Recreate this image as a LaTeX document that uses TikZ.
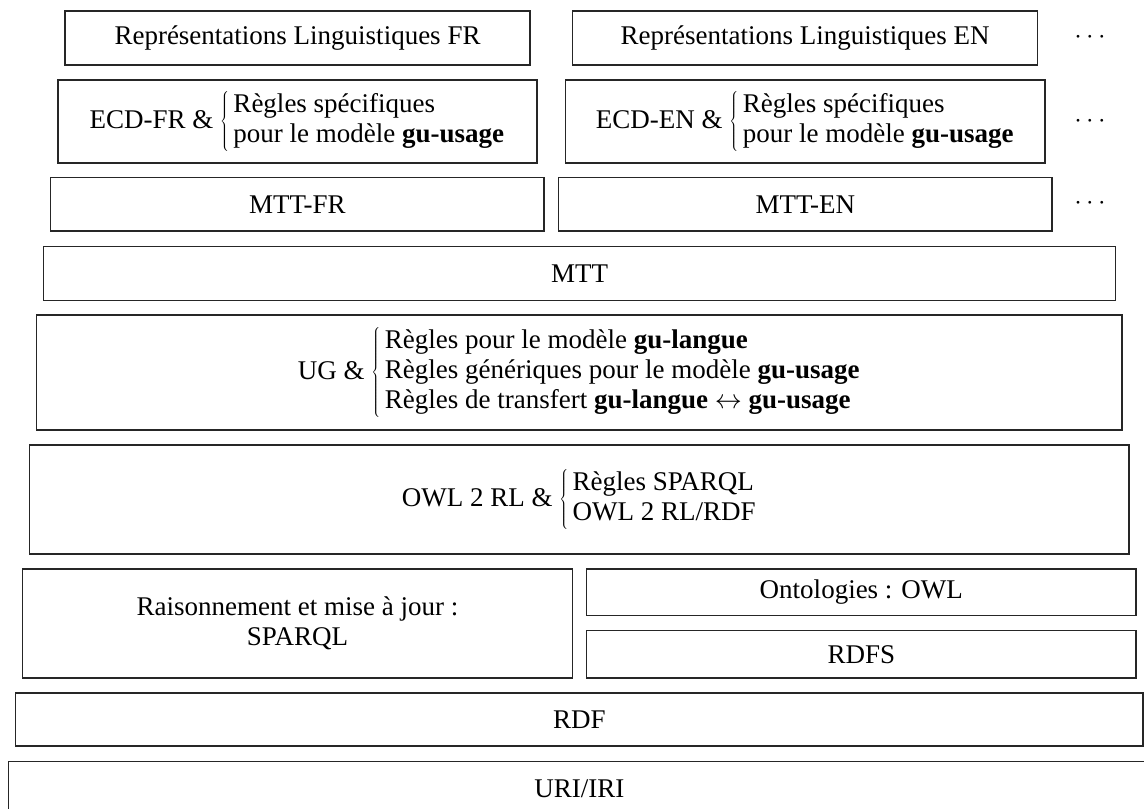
\RequirePackage{fix-cm}
\documentclass[tikz,border=0pt]{standalone}
\usepackage{fontspec}
\setmainfont{Liberation Serif}
\tikzset{
  layer/.style={draw=black!85, line width=1.2pt, inner sep=0pt, align=center,
    font=\fontsize{27}{30}\selectfont},
  etc/.style={inner sep=0pt, font=\fontsize{27}{30}\selectfont}
}
\newcommand{\brc}[1]{$\left\{\begin{tabular}{@{\,}l@{}}#1\end{tabular}\right.$}
\begin{document}
\begin{tikzpicture}[x=1pt,y=-1pt]
\useasboundingbox (0,0) rectangle (1144,809);
\clip (0,0) rectangle (1144,809);
\node[layer, minimum width=465pt, minimum height=54pt] (repfr) at (297.5,38) {Représentations Linguistiques FR};
\node[layer, minimum width=465pt, minimum height=54pt] (repen) at (805.2,38) {Représentations Linguistiques EN};
\node[etc] (dots1) at (1090,37) {$\cdots$};
\node[layer, minimum width=479pt, minimum height=83pt] (ecdfr) at (297.5,121.5) {ECD-FR \& \brc{Règles spécifiques\\pour le modèle \textbf{gu-usage}}};
\node[layer, minimum width=479.3pt, minimum height=83pt] (ecden) at (805.35,121.5) {ECD-EN \& \brc{Règles spécifiques\\pour le modèle \textbf{gu-usage}}};
\node[etc] (dots2) at (1090,121) {$\cdots$};
\node[layer, minimum width=493.3pt, minimum height=53.3pt] (mttfr) at (297.35,204.35) {MTT-FR};
\node[layer, minimum width=493.3pt, minimum height=53.3pt] (mtten) at (805.35,204.35) {MTT-EN};
\node[etc] (dots3) at (1090,203) {$\cdots$};
\node[layer, minimum width=1072pt, minimum height=54pt] (mtt) at (579.7,273.7) {MTT};
\node[layer, minimum width=1085.3pt, minimum height=115pt] (ug) at (579.35,372.5) {UG \& \brc{Règles pour le modèle \textbf{gu-langue}\\Règles génériques pour le modèle \textbf{gu-usage}\\Règles de transfert \textbf{gu-langue} $\leftrightarrow$ \textbf{gu-usage}}};
\node[layer, minimum width=1099.3pt, minimum height=109pt] (owl) at (579.35,499.5) {OWL 2 RL \& \brc{Règles SPARQL\\OWL 2 RL/RDF}};
\node[layer, minimum width=549.6pt, minimum height=109pt] (rais) at (297.5,623.5) {Raisonnement et mise à jour :\\SPARQL};
\node[layer, minimum width=549.3pt, minimum height=46.5pt] (onto) at (861.35,592.25) {Ontologies : OWL};
\node[layer, minimum width=549.3pt, minimum height=47.5pt] (rdfs) at (861.35,654.25) {RDFS};
\node[layer, minimum width=1127.3pt, minimum height=53pt] (rdf) at (579.35,719.5) {RDF};
\node[layer, minimum width=1141.3pt, minimum height=54pt] (uri) at (579.35,788.7) {URI/IRI};
\end{tikzpicture}
\end{document}
